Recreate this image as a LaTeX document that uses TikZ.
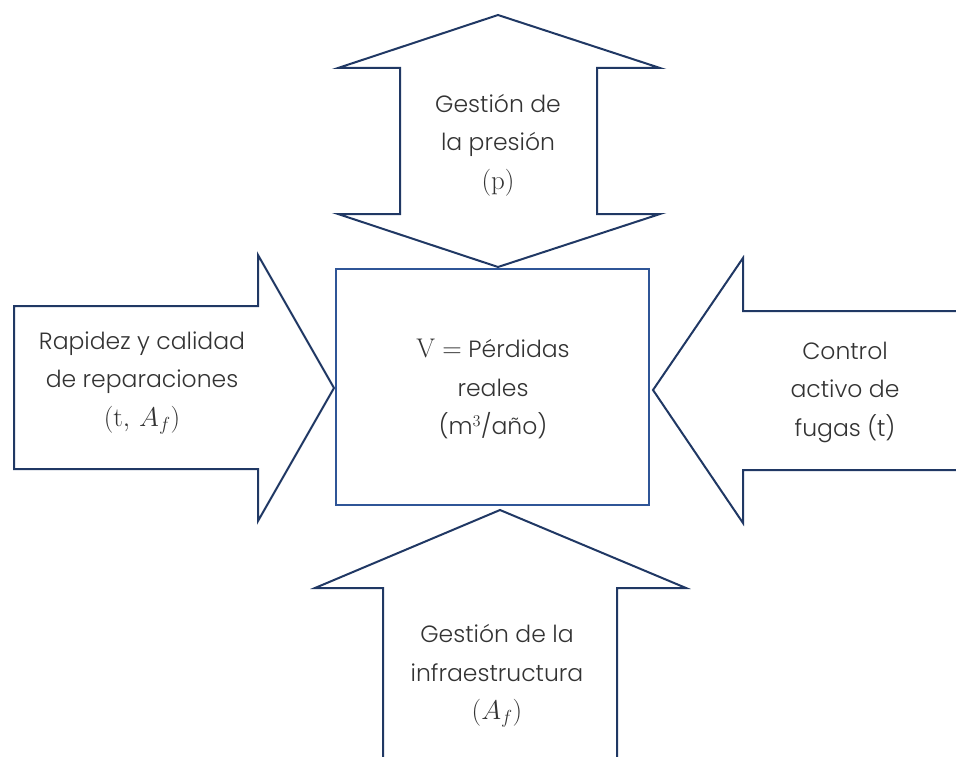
\documentclass[tikz,border=0pt]{standalone}
\usepackage{fix-cm}
\usepackage[no-math]{fontspec}
\setmainfont{Poppins}[UprightFont={* Light}]
\definecolor{navy}{HTML}{203864}
\definecolor{boxblue}{HTML}{2F5597}
\definecolor{txtgray}{HTML}{333333}
\newcommand{\bigmath}[1]{{\fontsize{27}{38.5}\selectfont$#1$}}
\tikzset{
  bigarrow/.style={draw=navy, line width=2pt, line join=miter, fill=white},
  centerbox/.style={draw=boxblue, line width=2pt},
  label/.style={align=center, text=txtgray, font=\fontsize{23.5}{38.5}\selectfont}
}
\begin{document}
\begin{tikzpicture}[x=1pt, y=-1pt]
\useasboundingbox (0,0) rectangle (956,757);

% top double arrow (p)
\draw[bigarrow] (498,15) -- (660,68) -- (597,68) -- (597,214) -- (660,214)
  -- (498,267) -- (338,214) -- (400,214) -- (400,68) -- (338,68) -- cycle;
\node[label] (presion) at (498,145) {Gestión de\\la presión\\\bigmath{(\mathrm{p})}};

% left arrow
\draw[bigarrow] (14,306) -- (258,306) -- (258,255) -- (334,388) -- (258,521)
  -- (258,469) -- (14,469) -- cycle;
\node[label] (reparaciones) at (142,383) {Rapidez y calidad\\de reparaciones\\\bigmath{(\mathrm{t},\, A_f)}};

% right arrow, runs off the page
\draw[bigarrow] (970,311) -- (743,311) -- (743,258) -- (653,390) -- (743,523)
  -- (743,470) -- (970,470);
\node[label] (fugas) at (845,392) {Control\\activo de\\fugas (t)};

% bottom arrow, runs off the page
\draw[bigarrow] (383,770) -- (383,588) -- (315,588) -- (500,510) -- (686,588)
  -- (617,588) -- (617,770);
\node[label] (infra) at (497,676) {Gestión de la\\infraestructura\\\bigmath{(A_f)}};

% center box
\draw[centerbox] (336,269) rectangle (649,505);
\node[label] (perdidas) at (493,389) {\bigmath{\mathrm{V} =} Pérdidas\\reales\\(m$^3$/año)};
\end{tikzpicture}
\end{document}
